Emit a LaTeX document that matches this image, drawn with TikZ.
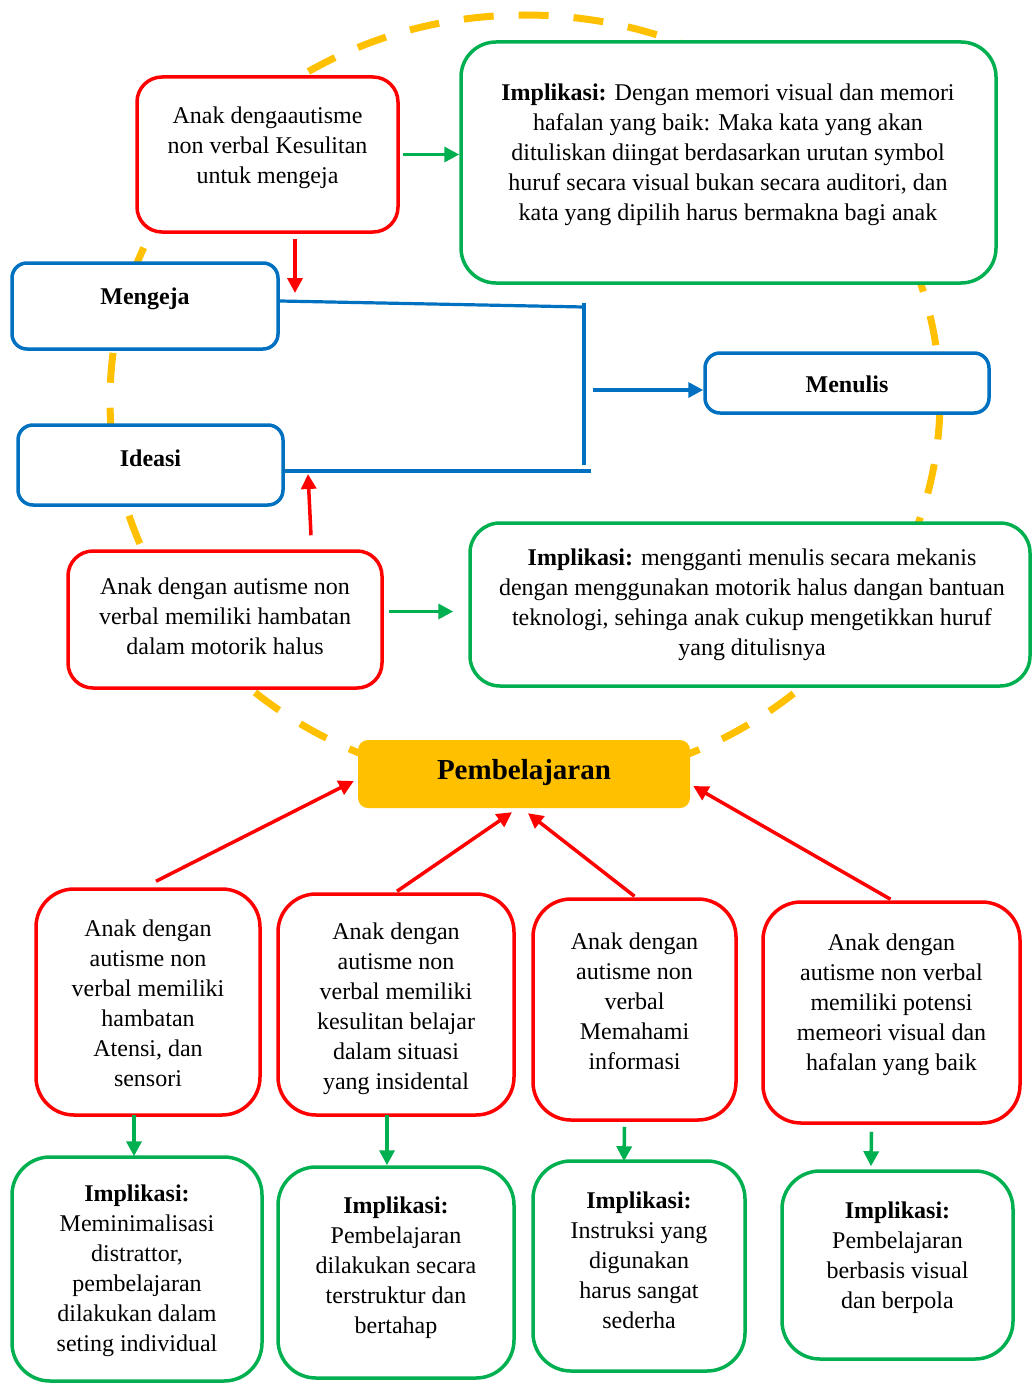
\documentclass[tikz,border=0pt]{standalone}
\usepackage{fontspec}
\setmainfont{Liberation Serif}
\usetikzlibrary{arrows.meta,calc}
\definecolor{cred}{HTML}{FF0000}
\definecolor{cgreen}{HTML}{00B050}
\definecolor{cblue}{HTML}{0070C0}
\definecolor{cyel}{HTML}{FFC000}
\tikzset{
  box/.style={rectangle, line width=3.5pt, fill=white, inner sep=0pt},
  redbox/.style={box, draw=cred},
  greenbox/.style={box, draw=cgreen},
  bluebox/.style={box, draw=cblue, rounded corners=15pt},
  txt/.style={align=center, inner sep=0pt, font=\fontsize{24}{30}\selectfont},
  tipped/.style={line width=3.5pt, -{Triangle[length=15pt,width=15pt]}},
  rarrow/.style={tipped, draw=cred},
  garrow/.style={tipped, draw=cgreen},
  barrow/.style={tipped, draw=cblue},
  bline/.style={line width=3.2pt, draw=cblue},
}
\begin{document}
\begin{tikzpicture}[x=1pt,y=-1pt]
\useasboundingbox (0,0) rectangle (1033,1383);
% dashed ring
\draw[cyel, line width=7pt, dash pattern=on 30pt off 25pt] (525,400) ellipse [x radius=415pt, y radius=385pt];

% top red box and its implication
\node[redbox, rounded corners=25pt, minimum width=261pt, minimum height=155pt] (r1) at (267.5,154.5) {};
\node[txt] (r1t) at (267.5,147.5) {Anak dengaautisme\\non verbal Kesulitan\\untuk mengeja};
\node[greenbox, rounded corners=35pt, minimum width=535pt, minimum height=241pt] (g1) at (728.5,162.5) {};
\node[txt] (g1t) at (728,155) {\textbf{Implikasi:} Dengan memori visual dan memori\\hafalan yang baik: Maka kata yang akan\\dituliskan diingat berdasarkan urutan symbol\\huruf secara visual bukan secara auditori, dan\\kata yang dipilih harus bermakna bagi anak};

% blue boxes
\node[bluebox, minimum width=266pt, minimum height=86pt] (b1) at (145,306) {};
\node[txt] (b1t) at (145,299) {\textbf{Mengeja}};
\node[bluebox, minimum width=265pt, minimum height=80pt] (b2) at (150.5,465) {};
\node[txt] (b2t) at (150.5,458) {\textbf{Ideasi}};
\node[bluebox, minimum width=284pt, minimum height=60pt] (b3) at (847,383) {};
\node[txt] (b3t) at (847,384) {\textbf{Menulis}};

% motorik
\node[redbox, rounded corners=25pt, minimum width=314pt, minimum height=137pt] (r2) at (225,619.5) {};
\node[txt] (r2t) at (225,616.5) {Anak dengan autisme non\\verbal memiliki hambatan\\dalam motorik halus};
\node[greenbox, rounded corners=30pt, minimum width=560pt, minimum height=163pt] (g2) at (750,604.5) {};
\node[txt] (g2t) at (752,605) {\textbf{Implikasi:} mengganti menulis secara mekanis\\dengan menggunakan motorik halus dangan bantuan\\teknologi, sehinga anak cukup mengetikkan huruf\\yang ditulisnya};

% central node
\node[rectangle, fill=cyel, rounded corners=10pt, minimum width=332pt, minimum height=68pt, inner sep=0pt] (P) at (524,774) {};
\node[txt, font=\fontsize{29}{34}\selectfont\bfseries] (Pt) at (524,773) {Pembelajaran};

% bottom red boxes
\node[redbox, rounded corners=38pt, minimum width=224pt, minimum height=226pt] (ra) at (148,1002) {};
\node[txt] (rat) at (148,1003.5) {Anak dengan\\autisme non\\verbal memiliki\\hambatan\\Atensi, dan\\sensori};
\node[redbox, rounded corners=38pt, minimum width=236pt, minimum height=221pt] (rb) at (396,1004.5) {};
\node[txt] (rbt) at (396,1009) {Anak dengan\\autisme non\\verbal memiliki\\kesulitan belajar\\dalam situasi\\yang insidental};
\node[redbox, rounded corners=38pt, minimum width=203pt, minimum height=221pt] (rc) at (634.5,1009.5) {};
\node[txt] (rct) at (634.5,1001.5) {Anak dengan\\autisme non\\verbal\\Memahami\\informasi};
\node[redbox, rounded corners=38pt, minimum width=257pt, minimum height=221pt] (rd) at (891.5,1012.5) {};
\node[txt] (rdt) at (891.5,1005) {Anak dengan\\autisme non verbal\\memiliki potensi\\memeori visual dan\\hafalan yang baik};

% bottom green boxes
\node[greenbox, rounded corners=38pt, minimum width=250pt, minimum height=224pt] (ga) at (137,1269) {};
\node[txt] (gat) at (137,1271) {\textbf{Implikasi:}\\Meminimalisasi\\distrattor,\\pembelajaran\\dilakukan dalam\\seting individual};
\node[greenbox, rounded corners=38pt, minimum width=236pt, minimum height=211pt] (gb) at (396,1272.5) {};
\node[txt] (gbt) at (396,1267.5) {\textbf{Implikasi:}\\Pembelajaran\\dilakukan secara\\terstruktur dan\\bertahap};
\node[greenbox, rounded corners=38pt, minimum width=212pt, minimum height=210pt] (gc) at (639,1266) {};
\node[txt] (gct) at (639,1260.5) {\textbf{Implikasi:}\\Instruksi yang\\digunakan\\harus sangat\\sederha};
\node[greenbox, rounded corners=38pt, minimum width=231pt, minimum height=188pt] (gd) at (897.5,1265) {};
\node[txt] (gdt) at (897.5,1258) {\textbf{Implikasi:}\\Pembelajaran\\berbasis visual\\dan berpola};

% coordinates for free ends
\coordinate (mtip) at (295,293);
\coordinate (jtop) at (584,307);
\coordinate (jbot) at (584,465);
\coordinate (iend) at (591,471);
\coordinate (mstart) at (593,390);
\coordinate (itip) at (308,474);

% connectors, top part
\draw[garrow] ([xshift=3pt]r1.east) -- (r1.east -| g1.west);
\draw[rarrow] ($(r1.south -| mtip)+(0,5)$) -- (mtip);
\draw[bline] ($(b1.east)+(0,-5)$) -- (jtop);
\draw[bline] ($(jtop)+(0,-4)$) -- (jbot);
\draw[bline] ($(b2.east)+(-3,6)$) -- (iend);
\draw[barrow] (mstart) -- (mstart -| b3.west);
\draw[rarrow] ($(r2.north)+(86,-14)$) -- (itip);
\draw[garrow] ($(r2.east)+(5,-8)$) -- ($(r2.east -| g2.west)+(-15,-8)$);

% connectors to Pembelajaran
\draw[rarrow] ($(ra.north)+(8,-6)$) -- ($(P.west)+(-4,7)$);
\draw[rarrow] ($(rb.north)+(1,-1)$) -- ($(P.south)+(-12,4)$);
\draw[rarrow] ($(rc.north)+(0,-1)$) -- ($(P.south)+(4,5)$);
\draw[rarrow] ($(rd.north)+(-1,-1)$) -- ($(P.east)+(3,12)$);

% connectors to implications
\draw[garrow] ($(ra.south)+(-14,-2)$) -- ($(ga.north)+(-3,1)$);
\draw[garrow] ($(rb.south)+(-9,-2)$) -- ($(gb.north)+(-9,0)$);
\draw[garrow] ($(rc.south)+(-10,5)$) -- ($(gc.north)+(-15,2)$);
\draw[garrow] ($(rd.south)+(-20,7)$) -- ($(gd.north)+(-26.5,-3)$);
\end{tikzpicture}
\end{document}
